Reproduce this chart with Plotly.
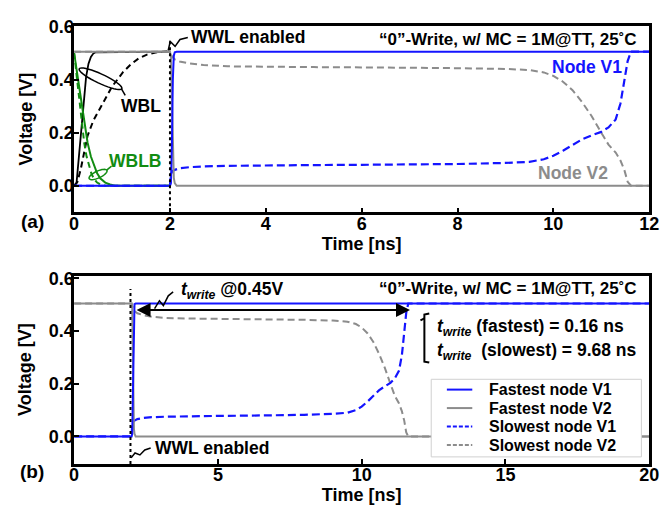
import numpy as np
import plotly.graph_objects as go

# ---------------- data ----------------
# (a) write bit-lines
t_wbl_solid = [0, 0.05, 0.1, 0.15, 0.2, 0.25, 0.3, 0.35, 0.4, 0.45, 2.0]
v_wbl_solid = [0.0, 0.01, 0.11, 0.22, 0.33, 0.41, 0.46, 0.485, 0.498, 0.503, 0.505]

t_wbl_dash = [0, 0.07, 0.14, 0.2, 0.28, 0.4, 0.58, 0.79, 1.02, 1.18, 1.35, 1.52, 1.7, 1.86, 2.0]
v_wbl_dash = [0.0, 0.015, 0.064, 0.12, 0.188, 0.245, 0.305, 0.373, 0.428, 0.457, 0.48, 0.494, 0.502, 0.506, 0.507]

t_wblb_solid = [0, 0.05, 0.1, 0.175, 0.22, 0.28, 0.35, 0.41, 0.48, 0.55, 0.65, 0.75, 0.85, 2.0]
v_wblb_solid = [0.5, 0.44, 0.38, 0.286, 0.23, 0.163, 0.11, 0.077, 0.047, 0.027, 0.012, 0.005, 0.0, 0.0]

t_wblb_dash = [0, 0.05, 0.1, 0.14, 0.18, 0.21, 0.26, 0.31, 0.36, 0.41, 0.48, 0.55, 0.65, 2.0]
v_wblb_dash = [0.5, 0.42, 0.34, 0.286, 0.22, 0.163, 0.11, 0.077, 0.047, 0.027, 0.012, 0.005, 0.0, 0.0]

# fastest cell storage nodes
t_fast = [0, 2.0, 2.02, 2.04, 2.06, 2.08, 2.1, 2.14, 20]
v_fast_v1 = [0.0, 0.0, 0.01, 0.15, 0.4, 0.49, 0.503, 0.505, 0.505]
v_fast_v2 = [0.505, 0.505, 0.49, 0.3, 0.1, 0.03, 0.01, 0.0, 0.0]

# slowest cell storage nodes
t_slow = [0, 2.0, 2.02, 2.05, 2.1, 2.2, 2.4, 2.7, 3.2, 4, 5, 6, 7, 8, 9, 9.5, 9.8, 10.0,
          10.2, 10.4, 10.6, 10.8, 11.0, 11.15, 11.3, 11.4, 11.48, 11.55, 11.62, 11.7, 20]
v_slow_v1 = [0.0, 0.0, 0.045, 0.055, 0.06, 0.066, 0.07, 0.073, 0.075, 0.077, 0.078, 0.079, 0.08,
             0.082, 0.086, 0.09, 0.1, 0.113, 0.132, 0.155, 0.175, 0.19, 0.203, 0.22, 0.25, 0.31,
             0.4, 0.47, 0.505, 0.505, 0.505]
v_slow_v2 = [0.505, 0.505, 0.495, 0.485, 0.476, 0.468, 0.461, 0.455, 0.45, 0.448, 0.447, 0.446,
             0.445, 0.443, 0.44, 0.436, 0.427, 0.414, 0.392, 0.36, 0.315, 0.262, 0.2, 0.155,
             0.125, 0.095, 0.06, 0.015, 0.0, 0.0, 0.0]

t_write_start = 2.12
t_write_end = 11.68
t_write_level = 0.48
wwl_time = 2.0

legend_names = ["Fastest node V1", "Fastest node V2", "Slowest node V1", "Slowest node V2"]

# ---------------- styling ----------------
W, H = 669, 506
FONT = "Liberation Sans, Arial, sans-serif"
BLUE = "#1414ff"
GRAY = "#8c8c8c"
GREEN = "#128c12"
BLACK = "#000000"


def P(px, py):
    return px / W, 1 - py / H


def pathp(points, close=False):
    s = ""
    for i, (px, py) in enumerate(points):
        x, y = P(px, py)
        s += ("M" if i == 0 else " L") + f" {x:.5f},{y:.5f}"
    if close:
        s += " Z"
    return s


def ellipse_pts(cx, cy, a, b, ang_deg, n=40):
    th = np.linspace(0, 2 * np.pi, n)
    c, s = np.cos(np.radians(ang_deg)), np.sin(np.radians(ang_deg))
    return [(cx + a * np.cos(t) * c - b * np.sin(t) * s, cy + a * np.cos(t) * s + b * np.sin(t) * c) for t in th]


fig = go.Figure()


def add(x, y, color, dash, width, xa, ya):
    fig.add_trace(go.Scatter(x=x, y=y, mode="lines", xaxis=xa, yaxis=ya, showlegend=False,
                             line=dict(color=color, dash=dash, width=width), hoverinfo="skip"))


# panel (a)
add(t_wbl_solid, v_wbl_solid, BLACK, "solid", 1.8, "x", "y")
add(t_wbl_dash, v_wbl_dash, BLACK, "6px,4px", 2, "x", "y")
add(t_wblb_solid, v_wblb_solid, GREEN, "solid", 2, "x", "y")
add(t_wblb_dash, v_wblb_dash, GREEN, "6px,4px", 2, "x", "y")
add(t_slow, v_slow_v2, GRAY, "7px,4px", 2, "x", "y")
add(t_slow, v_slow_v1, BLUE, "8px,4px", 2.2, "x", "y")
add(t_fast, v_fast_v2, GRAY, "solid", 2, "x", "y")
add(t_fast, v_fast_v1, BLUE, "solid", 2, "x", "y")

# panel (b)
add(t_slow, v_slow_v2, GRAY, "7px,4px", 2, "x2", "y2")
add(t_slow, v_slow_v1, BLUE, "8px,4px", 2.2, "x2", "y2")
add(t_fast, v_fast_v2, GRAY, "solid", 2, "x2", "y2")
add(t_fast, v_fast_v1, BLUE, "solid", 2, "x2", "y2")

xdom = [70.7 / W, 659 / W]
TF = dict(family=FONT, size=18, color="black", weight="bold")
ax_common = dict(showline=True, linewidth=2.5, linecolor="black", mirror=True, ticks="inside",
                 ticklen=5, tickwidth=2, tickcolor="black", showgrid=False, zeroline=False,
                 tickfont=TF, title_font=TF, ticklabeloverflow="allow")

fig.update_layout(
    width=W, height=H, margin=dict(l=0, r=0, t=0, b=0),
    paper_bgcolor="white", plot_bgcolor="white",
    font=dict(family=FONT, size=16, color="black", weight="bold"),
    xaxis=dict(domain=xdom, anchor="y", range=[0, 12], tickvals=[0, 2, 4, 6, 8, 10, 12],
               ticklabelstandoff=-7, title=dict(text="Time [ns]", standoff=0), **ax_common),
    yaxis=dict(domain=[1 - 207 / H, 1 - 17 / H], anchor="x", range=[-0.1, 0.603],
               tickvals=[0, 0.2, 0.4, 0.6], tickformat=".1f", ticklabelstandoff=-6, **ax_common),
    xaxis2=dict(domain=xdom, anchor="y2", range=[0, 20], tickvals=[0, 5, 10, 15, 20],
                ticklabelstandoff=-7, title=dict(text="Time [ns]", standoff=0), **ax_common),
    yaxis2=dict(domain=[1 - 463.3 / H, 1 - 271.7 / H], anchor="x2", range=[-0.105, 0.61],
                tickvals=[0, 0.2, 0.4, 0.6], tickformat=".1f", ticklabelstandoff=-6, **ax_common),
)

shapes = []
# WWL dotted lines
shapes.append(dict(type="line", xref="x", yref="y", x0=wwl_time, x1=wwl_time, y0=-0.1, y1=0.55,
                   line=dict(color="black", width=2, dash="dot")))
shapes.append(dict(type="line", xref="x2", yref="y2", x0=wwl_time - 0.04, x1=wwl_time - 0.04, y0=-0.105, y1=0.56,
                   line=dict(color="black", width=2, dash="dot")))
# zigzags
for pts in ([(167, 42), (169, 33), (174, 38), (179, 31), (187, 29)],
            [(153, 305), (158, 297), (162, 302), (167, 292), (172, 288)],
            [(129, 457), (133, 452), (138, 454), (143, 449), (149, 447)]):
    shapes.append(dict(type="path", xref="paper", yref="paper", path=pathp(pts),
                       line=dict(color="black", width=1.5)))
# ellipses
shapes.append(dict(type="path", xref="paper", yref="paper",
                   path=pathp(ellipse_pts(97.7, 71, 24, 4.8, 24.8), close=True),
                   line=dict(color="black", width=1.5)))
shapes.append(dict(type="path", xref="paper", yref="paper", path=pathp([(119, 81), (123, 88)]),
                   line=dict(color="black", width=1.5)))
shapes.append(dict(type="path", xref="paper", yref="paper",
                   path=pathp(ellipse_pts(95.2, 168.5, 10, 3.5, -24.6), close=True),
                   line=dict(color=GREEN, width=1.5)))
shapes.append(dict(type="path", xref="paper", yref="paper", path=pathp([(104, 164), (109, 160)]),
                   line=dict(color=GREEN, width=1.5)))
# bracket
shapes.append(dict(type="path", xref="paper", yref="paper",
                   path=pathp([(434, 310), (429, 311), (429, 359), (434, 360)]),
                   line=dict(color="black", width=2)))
shapes.append(dict(type="path", xref="paper", yref="paper",
                   path=pathp([(429, 315), (425, 317)]), line=dict(color="black", width=2)))
# legend box
lx0, lx1, ly0, ly1 = 436, 651, 377, 456
shapes.append(dict(type="rect", xref="paper", yref="paper", layer="above",
                   x0=P(lx0, 0)[0], x1=P(lx1, 0)[0], y0=P(0, ly1)[1], y1=P(0, ly0)[1],
                   line=dict(color="#d0d0d0", width=1), fillcolor="white"))
leg_styles = [(BLUE, "solid"), (GRAY, "solid"), (BLUE, "4px,2px"), (GRAY, "4px,2px")]
leg_rows = [387.5, 406.3, 425.1, 443.9]
annotations = []
for name, (col, dsh), ry in zip(legend_names, leg_styles, leg_rows):
    shapes.append(dict(type="line", xref="paper", yref="paper", layer="above",
                       x0=P(452, 0)[0], x1=P(478, 0)[0], y0=P(0, ry)[1], y1=P(0, ry)[1],
                       line=dict(color=col, width=2, dash=dsh)))
    annotations.append(dict(text=name, x=P(493, 0)[0], y=P(0, ry)[1], xref="paper", yref="paper",
                            xanchor="left", yanchor="middle", showarrow=False,
                            font=dict(family=FONT, size=16, color="black", weight="bold")))
fig.update_layout(shapes=shapes)


def txt(text, px, py, xanchor="center", color="black", size=17.5, angle=0):
    x, y = P(px, py)
    annotations.append(dict(text=text, x=x, y=y, xref="paper", yref="paper", xanchor=xanchor,
                            yanchor="middle", showarrow=False, textangle=angle,
                            font=dict(family=FONT, size=size, color=color, weight="bold")))


# y-axis titles
txt("Voltage [V]", 21, 112, size=18, angle=-90)
txt("Voltage [V]", 21, 367, size=18, angle=-90)

title = "\u201c0\u201d-Write, w/ MC = 1M@TT, 25\u02daC"
txt(title, 649, 31.5, "right", size=17)
txt(title, 649, 285, "right", size=17)
txt("WWL enabled", 188, 28.5, "left")
txt("WBL", 139, 98.5)
txt("WBLB", 132.5, 155, color=GREEN)
txt("Node V1", 595, 59, color=BLUE)
txt("Node V2", 581, 166.5, color=GRAY)
txt("(a)", 28, 216, size=19)
txt("(b)", 28, 471, size=19)
txt("<i>t</i><sub><i>write</i></sub> @0.45V", 178, 287, "left")
txt("WWL enabled", 151, 446.5, "left")
txt("<i>t</i><sub><i>write</i></sub> (fastest) = 0.16 ns", 440, 324, "left")
txt("<i>t</i><sub><i>write</i></sub>  (slowest) = 9.68 ns", 440, 349, "left")

# t_write double arrow
annotations.append(dict(x=t_write_end, y=t_write_level, ax=t_write_start, ay=t_write_level,
                        xref="x2", yref="y2", axref="x2", ayref="y2", text="", showarrow=True,
                        arrowside="end+start", arrowhead=2, arrowsize=1.4, arrowwidth=2,
                        arrowcolor="black"))
fig.update_layout(annotations=annotations)

fig.write_html("out.html")
